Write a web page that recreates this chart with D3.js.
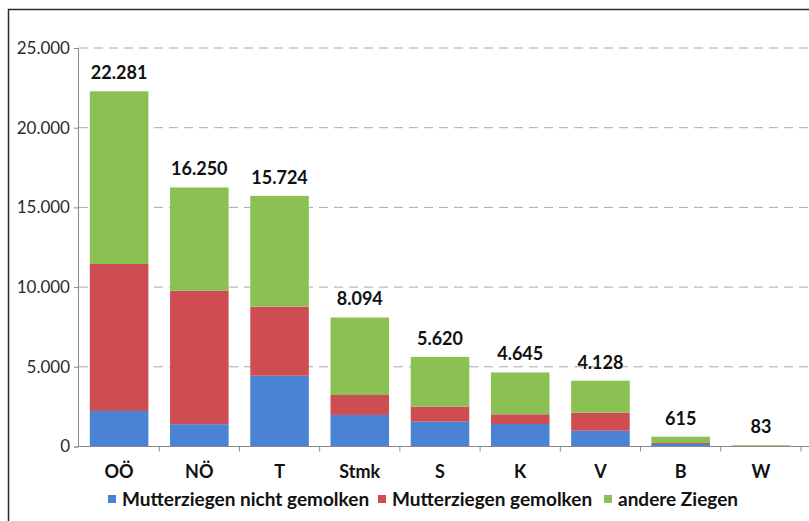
<!DOCTYPE html>
<meta charset="utf-8">
<style>
  body { margin: 0; background: #fff; }
  svg { display: block; }
  .tick text { font-family: Lato, sans-serif; }
  .grid line { stroke: #a8a8a8; stroke-dasharray: 9,6; }
</style>
<svg width="809" height="521"></svg>
<script src="https://d3js.org/d3.v7.min.js"></script>
<script>

  var categories = ["OÖ", "NÖ", "T", "Stmk", "S", "K", "V", "B", "W"];
  var nichtGemolken = [2230, 1400, 4440, 1980, 1560, 1410, 990, 160, 30];
  var gemolken = [9220, 8370, 4330, 1250, 940, 610, 1130, 60, 10];
  var andere = [10831, 6480, 6954, 4864, 3120, 2625, 2008, 395, 43];
  var totals = [22281, 16250, 15724, 8094, 5620, 4645, 4128, 615, 83];
  var yTicks = [0, 5000, 10000, 15000, 20000, 25000];
  var seriesNames = ["Mutterziegen nicht gemolken", "Mutterziegen gemolken", "andere Ziegen"];
  var colors = ["#4a82d4", "#cd4d53", "#8bc152"];

  var svg = d3.select("svg");
  var x0 = 79, x1 = 801, yBottom = 446.5, yTop = 48;

  var x = d3.scaleBand().domain(categories).range([x0, x1]).paddingInner(0.27).paddingOuter(0.135);
  var y = d3.scaleLinear().domain([0, 25000]).range([yBottom, yTop]);

  // frame
  svg.append("rect")
    .attr("x", 8.5).attr("y", 9.5)
    .attr("width", 830).attr("height", 540)
    .attr("fill", "none").attr("stroke", "#2a2a2a").attr("stroke-width", 1.5);

  // grid
  svg.append("g").attr("class", "grid")
    .selectAll("line")
    .data(yTicks.filter(function(d) { return d > 0; }))
    .enter().append("line")
    .attr("x1", x0).attr("x2", 809)
    .attr("y1", function(d) { return y(d); })
    .attr("y2", function(d) { return y(d); });

  var table = categories.map(function(c, i) {
    return { cat: c, a: nichtGemolken[i], b: gemolken[i], c: andere[i], total: totals[i] };
  });
  var stack = d3.stack().keys(["a", "b", "c"])(table);

  svg.append("g").selectAll("g")
    .data(stack)
    .enter().append("g")
    .attr("fill", function(d, i) { return colors[i]; })
    .selectAll("rect")
    .data(function(d) { return d; })
    .enter().append("rect")
    .attr("x", function(d) { return x(d.data.cat); })
    .attr("width", x.bandwidth())
    .attr("y", function(d) { return y(d[1]); })
    .attr("height", function(d) { return y(d[0]) - y(d[1]); });

  // y axis
  var yAxis = svg.append("g")
    .attr("transform", "translate(" + 78 + ",0)")
    .call(d3.axisLeft(y).tickValues(yTicks).tickSize(4).tickPadding(4)
      .tickFormat(function(d) { return d === 0 ? "0" : d3.format(",")(d).replace(/,/g, "."); }));
  yAxis.select(".domain").attr("stroke", "#8a8a8a");
  yAxis.selectAll(".tick line").attr("stroke", "#8a8a8a");
  yAxis.selectAll(".tick text").attr("font-size", 17).attr("fill", "#2b2b2b");

  // x axis
  var xAxis = svg.append("g")
    .attr("transform", "translate(0," + yBottom + ")");
  xAxis.append("line")
    .attr("x1", 78).attr("x2", 809)
    .attr("stroke", "#8a8a8a");
  var step = x.step();
  xAxis.selectAll(".xt")
    .data(categories)
    .enter().append("line")
    .attr("x1", function(d) { return x(d) + x.bandwidth() + (step - x.bandwidth()) / 2; })
    .attr("x2", function(d) { return x(d) + x.bandwidth() + (step - x.bandwidth()) / 2; })
    .attr("y1", 0).attr("y2", 5)
    .attr("stroke", "#8a8a8a");
  xAxis.selectAll(".xl")
    .data(categories)
    .enter().append("text")
    .attr("x", function(d) { return x(d) + x.bandwidth() / 2; })
    .attr("y", 31)
    .attr("text-anchor", "middle")
    .attr("font-family", "Lato, sans-serif")
    .attr("font-weight", "bold")
    .attr("font-size", 18)
    .attr("fill", "#111")
    .text(function(d) { return d; });

  // value labels
  svg.append("g").selectAll("text")
    .data(table)
    .enter().append("text")
    .attr("x", function(d) { return x(d.cat) + x.bandwidth() / 2; })
    .attr("y", function(d) { return y(d.total) - 12; })
    .attr("text-anchor", "middle")
    .attr("font-family", "Lato, sans-serif")
    .attr("font-weight", "bold")
    .attr("font-size", 18)
    .attr("fill", "#111")
    .text(function(d) { return d3.format(",")(d.total).replace(/,/g, "."); });

  // legend
  var legendX = [108, 378, 604];
  var legend = svg.append("g").selectAll("g")
    .data(seriesNames)
    .enter().append("g")
    .attr("transform", function(d, i) { return "translate(" + legendX[i] + ",499)"; });
  legend.append("rect")
    .attr("x", 0).attr("y", -4).attr("width", 8).attr("height", 8)
    .attr("fill", function(d, i) { return colors[i]; });
  legend.append("text")
    .attr("x", 14).attr("y", 7)
    .attr("font-family", "Lato, sans-serif")
    .attr("font-weight", "bold")
    .attr("font-size", 19)
    .attr("fill", "#111")
    .text(function(d) { return d; });

</script>
